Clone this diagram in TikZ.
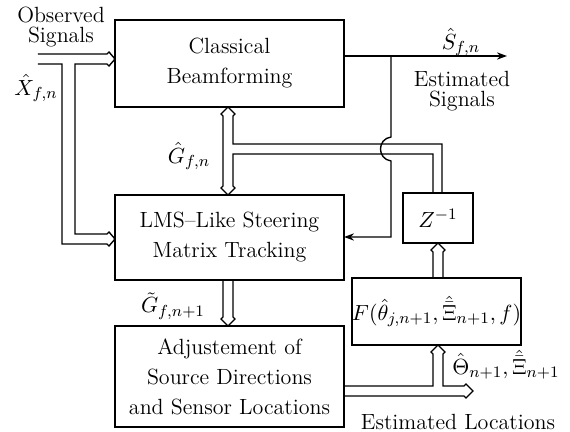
\documentclass[tikz,border=0pt]{standalone}
\usetikzlibrary{arrows.meta,calc}
\begin{document}
\begin{tikzpicture}[x=0.5pt,y=-0.5pt,line width=0.7pt,
  box/.style={draw,align=center,inner sep=0pt,outer sep=0pt,font=\fontsize{11}{15}\selectfont},
  lbl/.style={align=center,inner sep=0pt,font=\fontsize{11}{10}\selectfont},
  bus/.style={line join=miter},
  sig/.style={-{Stealth[length=5pt,width=3.6pt]}}]
\useasboundingbox (0,0) rectangle (570,432);
% boxes
\node[box,minimum width=114.5pt,minimum height=43.5pt] (bf) at (229.5,63.5) {Classical\\Beamforming};
\node[box,minimum width=114.5pt,minimum height=42.5pt] (lms) at (229.5,237.5) {LMS--Like Steering\\Matrix Tracking};
\node[box,minimum width=114.5pt,minimum height=50.5pt] (adj) at (229.5,376.5) {Adjustement of\\Source Directions\\and Sensor Locations};
\node[box,minimum width=35pt,minimum height=25pt] (z) at (438,218) {$Z^{-1}$};
\node[box,minimum width=84.5pt,minimum height=33.5pt] (F) at (436.5,311.5) {$F(\hat\theta_{j,n+1},\hat{\bar\Xi}_{n+1},f)$};
% labels
\node[lbl] (obs) at (61,27) {Observed\\Signals};
\node[lbl] (est) at (462,91) {Estimated\\Signals};
\node[lbl] (estl) at (458,422) {Estimated Locations};
\node[lbl] (xl) at (36,88) {$\hat X_{f,n}$};
\node[lbl] (gl) at (189,156) {$\hat G_{f,n}$};
\node[lbl] (sl) at (461,42) {$\hat S_{f,n}$};
\node[lbl] (gtl) at (173,306) {$\tilde G_{f,n+1}$};
\node[lbl] (thl) at (506,365) {$\hat\Theta_{n+1},\hat{\bar\Xi}_{n+1}$};
% free ends
\coordinate (obsin1) at (38,54);
\coordinate (obsin2) at (38,64);
\coordinate (sout) at (507,56);
\coordinate (locout) at (473,391);
% observed signals bus
\draw[bus] (obsin1) -- (107,54) -- (109,52) -- (bf.west |- 0,59);
\draw[bus] (obsin2) -- (62,64) -- (62,244) -- (107,244) -- (109,246) -- (lms.west |- 0,239);
\draw[bus] (bf.west |- 0,59) -- (109,66) -- (107,64) -- (75,64) -- (75,234) -- (107,234) -- (109,232) -- (lms.west |- 0,239);
% G hat bus
\draw[bus] (bf.south -| 228,0) -- (221,114) -- (223,116) -- (223,186) -- (221,188) -- (lms.north -| 228,0);
\draw[bus] (bf.south -| 228,0) -- (235,114) -- (233,116) -- (233,144) -- (442,144) -- (z.north -| 442,0);
\draw[bus] (z.north -| 433,0) -- (433,154) -- (233,154) -- (233,186) -- (235,188) -- (lms.north -| 228,0);
% F to Z
\draw[bus] (F.north -| 433,0) -- (433,252) -- (431,250) -- (z.south -| 438,0) -- (445,250) -- (443,252) -- (F.north -| 443,0);
% G tilde
\draw[bus] (lms.south -| 223,0) -- (223,317) -- (221,319) -- (adj.north -| 228,0) -- (235,319) -- (233,317) -- (lms.south -| 233,0);
% adj to F and estimated locations
\draw[bus] (adj.east |- 0,386) -- (433,386) -- (433,354) -- (431,352) -- (F.south -| 438,0) -- (445,352) -- (443,354) -- (443,386) -- (464,386) -- (466,384) -- (locout) -- (466,398) -- (464,396) -- (adj.east |- 0,396);
% S hat
\draw[sig] (bf.east |- 0,56) -- (sout);
\draw[sig] (391,56) -- (391,137) .. controls (377,139) and (377,159) .. (391,161) -- (391,237) -- (lms.east |- 0,237);
\end{tikzpicture}
\end{document}
